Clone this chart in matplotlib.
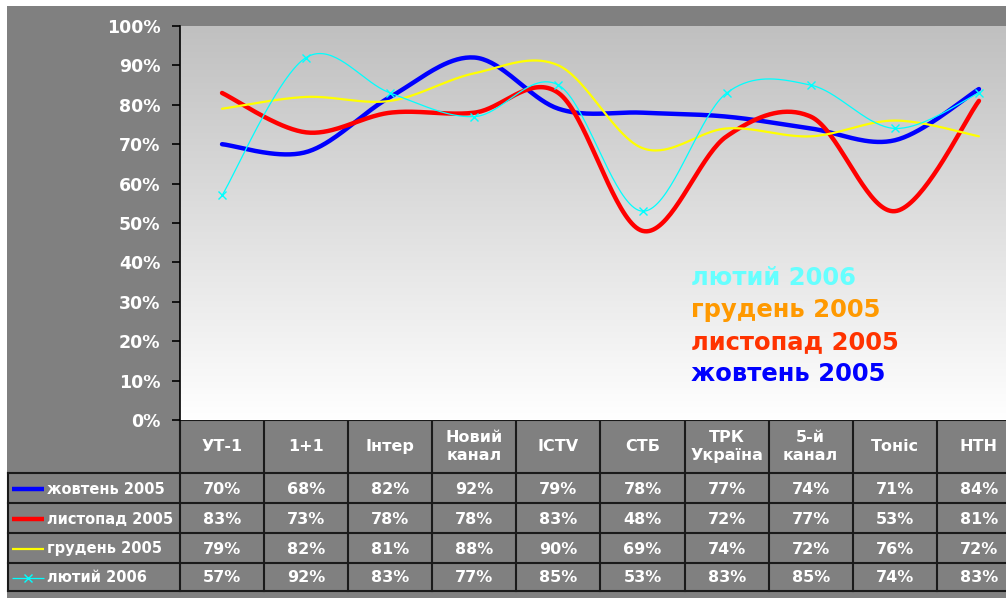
import numpy as np
import matplotlib
matplotlib.use("Agg")
import matplotlib.pyplot as plt
from matplotlib.patches import Rectangle

# ---------------- data ----------------
categories = ['УТ-1', '1+1', 'Інтер', 'Новий\nканал', 'ICTV', 'СТБ',
              'ТРК\nУкраїна', '5-й\nканал', 'Тоніс', 'НТН']
series_names = ['жовтень 2005', 'листопад 2005', 'грудень 2005', 'лютий 2006']
zhovten_2005 = [70, 68, 82, 92, 79, 78, 77, 74, 71, 84]
lystopad_2005 = [83, 73, 78, 78, 83, 48, 72, 77, 53, 81]
hruden_2005 = [79, 82, 81, 88, 90, 69, 74, 72, 76, 72]
lyutyi_2006 = [57, 92, 83, 77, 85, 53, 83, 85, 74, 83]
series_values = [zhovten_2005, lystopad_2005, hruden_2005, lyutyi_2006]
y_ticks = [0, 10, 20, 30, 40, 50, 60, 70, 80, 90, 100]

# overlay legend text (top to bottom)
overlay_labels = ['лютий 2006', 'грудень 2005', 'листопад 2005', 'жовтень 2005']

# ---------------- styles ----------------
line_colors = ['#0000ff', '#ff0000', '#ffff00', '#00ffff']
line_widths = [3.2, 3.2, 1.6, 0.9]
overlay_colors = ['#66ffff', '#ff9900', '#ff3300', '#0000ff']
GRAY = '#808080'
FW, FH = 1006, 598
L, R, T, B = 180, 1021, 26, 420   # plot area in pixels (right edge clipped)

plt.rcParams['font.family'] = ['DejaVu Sans']
fig = plt.figure(figsize=(FW / 100, FH / 100), dpi=100, facecolor='white')

# background / table axes in pixel coordinates
bg = fig.add_axes([0, 0, 1, 1], zorder=0)
bg.set_xlim(0, FW)
bg.set_ylim(FH, 0)
bg.axis('off')
bg.add_patch(Rectangle((7, 6), FW, FH, facecolor=GRAY, edgecolor='none'))

# main axes
ax = fig.add_axes([L / FW, (FH - B) / FH, (R - L) / FW, (B - T) / FH], zorder=1)
ax.set_xlim(-0.5, len(categories) - 0.5)
grad = np.linspace(192, 255, 256)[:, None] / 255.0
grad_img = np.repeat(grad[:, :, None], 3, axis=2)
ax.imshow(grad_img, extent=(-0.5, len(categories) - 0.5, 0, 100), aspect='auto',
          origin='upper', zorder=0, interpolation='bilinear')
ax.set_ylim(0, 100)


def smooth(vals, n=40):
    P = np.column_stack([np.arange(len(vals), dtype=float), np.asarray(vals, float)])
    out = []
    for i in range(len(P) - 1):
        p0 = P[i - 1] if i > 0 else P[i]
        p1, p2 = P[i], P[i + 1]
        p3 = P[i + 2] if i + 2 < len(P) else P[i + 1]
        c1 = p1 + (p2 - p0) / 6.0
        c2 = p2 - (p3 - p1) / 6.0
        t = np.linspace(0, 1, n)[:, None]
        seg = (1 - t) ** 3 * p1 + 3 * (1 - t) ** 2 * t * c1 + 3 * (1 - t) * t ** 2 * c2 + t ** 3 * p2
        out.append(seg if i == 0 else seg[1:])
    return np.vstack(out)


for k, vals in enumerate(series_values):
    s = smooth(vals)
    ax.plot(s[:, 0], s[:, 1], color=line_colors[k], lw=line_widths[k],
            solid_capstyle='round', zorder=3 + (1 if k == 3 else 0))
ax.plot(np.arange(len(categories)), lyutyi_2006, linestyle='none', marker='x',
        ms=6, mew=1.0, color=line_colors[3], zorder=5)

ax.set_yticks(y_ticks)
ax.set_yticklabels([f'{v}%' for v in y_ticks], color='white', fontweight='bold', fontsize=12.5)
ax.tick_params(axis='y', length=6, width=1.2, color='black', pad=8)
ax.set_xticks([])
for side in ['top', 'right', 'bottom']:
    ax.spines[side].set_visible(False)
ax.spines['left'].set_color('black')
ax.spines['left'].set_linewidth(1.2)

# overlay legend texts
for i, (lbl, c) in enumerate(zip(overlay_labels, overlay_colors)):
    ax.text(691, 285 + 32 * i, lbl, transform=bg.transData, color=c, fontsize=17.5,
            fontweight='bold', ha='left', va='baseline', zorder=6)

# ---------------- data table ----------------
n = len(categories)
cw = (R - L) / n
row_edges = [473, 503, 533, 563, 591]
lc = '#1a1a1a'
bg.plot([L, R], [B, B], color=lc, lw=1.5, zorder=2)
for y in row_edges:
    bg.plot([8, R], [y, y], color=lc, lw=1.5, zorder=2)
for i in range(n + 1):
    bg.plot([L + cw * i] * 2, [B, row_edges[-1]], color=lc, lw=1.5, zorder=2)
bg.plot([8, 8], [row_edges[0], row_edges[-1]], color=lc, lw=1.5, zorder=2)

for i, cat in enumerate(categories):
    bg.text(L + cw * (i + 0.5), (B + row_edges[0]) / 2, cat, color='white',
            fontweight='bold', fontsize=11.5, ha='center', va='center',
            linespacing=1.3, zorder=3)

for r, (name, vals) in enumerate(zip(series_names, series_values)):
    yc = (row_edges[r] + row_edges[r + 1]) / 2
    bg.plot([12, 44], [yc + 1, yc + 1], color=line_colors[r], lw=line_widths[r],
            zorder=3, solid_capstyle='butt')
    if r == 3:
        bg.plot([28], [yc + 1], marker='x', ms=6, mew=1.0, color=line_colors[r], zorder=3)
    bg.text(47, yc + 1, name, color='white', fontweight='bold', fontsize=10.5,
            ha='left', va='center', zorder=3)
    for i, v in enumerate(vals):
        bg.text(L + cw * (i + 0.5), yc + 1, f'{v}%', color='white', fontweight='bold',
                fontsize=11.5, ha='center', va='center', zorder=3)

fig.savefig('out.png', dpi=100, facecolor=fig.get_facecolor())
